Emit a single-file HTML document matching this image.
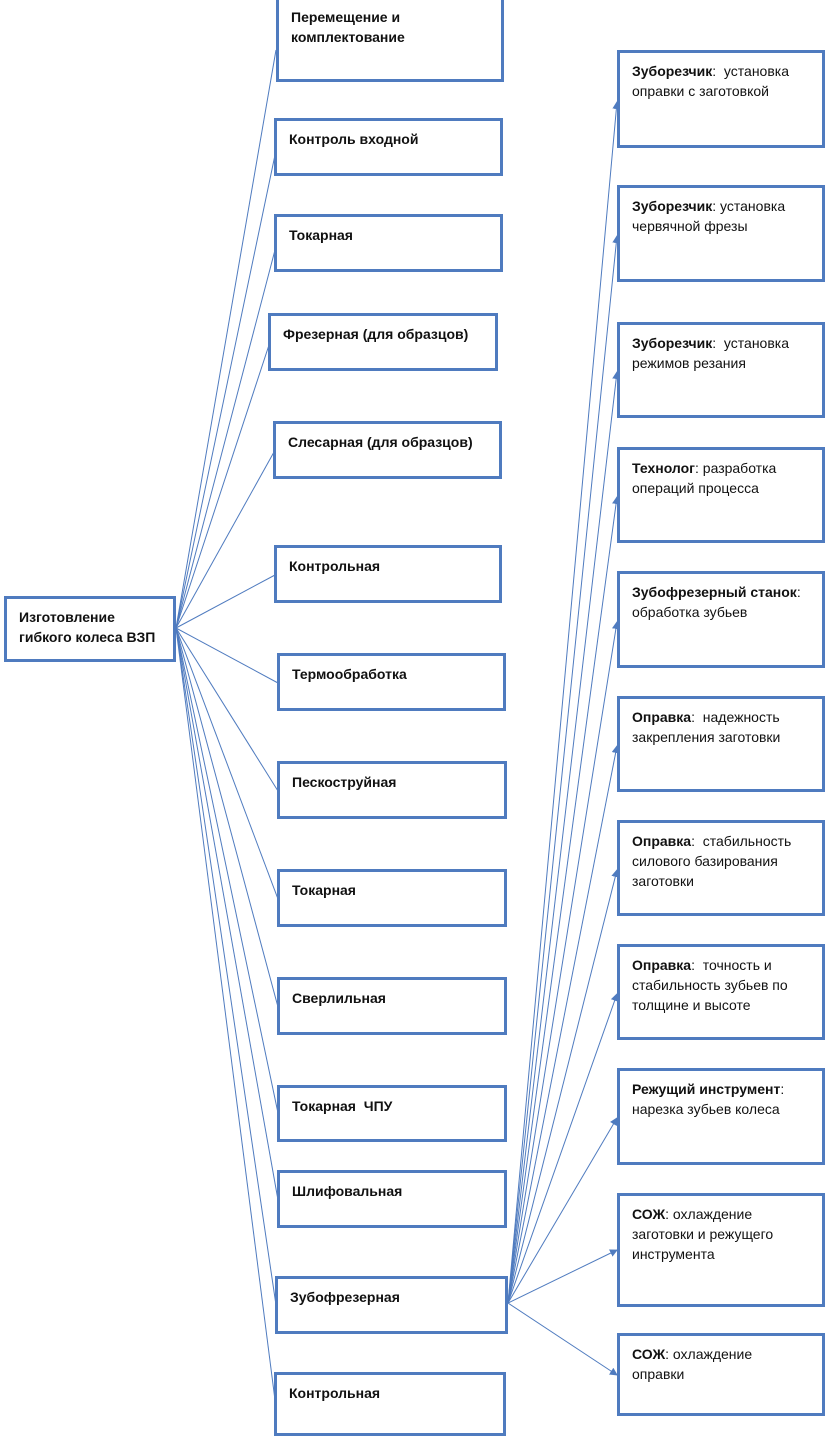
<!DOCTYPE html>
<html><head><meta charset="utf-8"><style>
body{margin:0;width:825px;height:1431px;position:relative;background:#fff;overflow:hidden;font-family:"Liberation Sans",sans-serif;font-size:14px;color:#111;}
.b{position:absolute;box-sizing:border-box;border:3px solid #4f7bbf;background:#fff;padding:8px 12px;line-height:20px;letter-spacing:0}
.r{padding-right:22px}
.l{font-weight:bold}
b{font-weight:bold}
svg{position:absolute;left:0;top:0}
</style></head><body>
<svg width="825" height="1431" viewBox="0 0 825 1431">
<defs><marker id="a" markerWidth="8" markerHeight="8" refX="7" refY="4" orient="auto" markerUnits="userSpaceOnUse"><path d="M0,0 L8,4 L0,8 z" fill="#4f7bbf"/></marker></defs>
<g stroke="#4f7bbf" stroke-width="1" fill="none">
<line x1="176" y1="628" x2="276" y2="50"/>
<line x1="176" y1="628" x2="275" y2="155"/>
<line x1="176" y1="628" x2="275" y2="250"/>
<line x1="176" y1="628" x2="269" y2="345"/>
<line x1="176" y1="628" x2="274" y2="452"/>
<line x1="176" y1="628" x2="275" y2="575"/>
<line x1="176" y1="628" x2="278" y2="683"/>
<line x1="176" y1="628" x2="278" y2="791"/>
<line x1="176" y1="628" x2="278" y2="899"/>
<line x1="176" y1="628" x2="278" y2="1007"/>
<line x1="176" y1="628" x2="278" y2="1113"/>
<line x1="176" y1="628" x2="278" y2="1200"/>
<line x1="176" y1="628" x2="276" y2="1305"/>
<line x1="176" y1="628" x2="275" y2="1400"/>
</g>
<g stroke="#4f7bbf" stroke-width="1" fill="none" marker-end="url(#a)">
<line x1="508" y1="1303" x2="617" y2="102"/>
<line x1="508" y1="1303" x2="617" y2="236"/>
<line x1="508" y1="1303" x2="617" y2="372"/>
<line x1="508" y1="1303" x2="617" y2="497"/>
<line x1="508" y1="1303" x2="617" y2="622"/>
<line x1="508" y1="1303" x2="617" y2="746"/>
<line x1="508" y1="1303" x2="617" y2="870"/>
<line x1="508" y1="1303" x2="617" y2="994"/>
<line x1="508" y1="1303" x2="617" y2="1118"/>
<line x1="508" y1="1303" x2="617" y2="1250"/>
<line x1="508" y1="1303" x2="617" y2="1375"/>
</g>
</svg>
<div class="b l" style="left:4px;top:596px;width:172px;height:66px;padding-top:8px">Изготовление<br>гибкого колеса ВЗП</div>

<div class="b l" style="left:276px;top:-4px;width:228px;height:86px">Перемещение и<br>комплектование</div>
<div class="b l" style="left:274px;top:118px;width:229px;height:58px">Контроль входной</div>
<div class="b l" style="left:274px;top:214px;width:229px;height:58px">Токарная</div>
<div class="b l" style="left:268px;top:313px;width:230px;height:58px">Фрезерная (для образцов)</div>
<div class="b l" style="left:273px;top:421px;width:229px;height:58px">Слесарная (для образцов)</div>
<div class="b l" style="left:274px;top:545px;width:228px;height:58px">Контрольная</div>
<div class="b l" style="left:277px;top:653px;width:229px;height:58px">Термообработка</div>
<div class="b l" style="left:277px;top:761px;width:230px;height:58px">Пескоструйная</div>
<div class="b l" style="left:277px;top:869px;width:230px;height:58px">Токарная</div>
<div class="b l" style="left:277px;top:977px;width:230px;height:58px">Сверлильная</div>
<div class="b l" style="left:277px;top:1085px;width:230px;height:57px">Токарная&nbsp; ЧПУ</div>
<div class="b l" style="left:277px;top:1170px;width:230px;height:58px">Шлифовальная</div>
<div class="b l" style="left:275px;top:1276px;width:233px;height:58px">Зубофрезерная</div>
<div class="b l" style="left:274px;top:1372px;width:232px;height:64px">Контрольная</div>

<div class="b r" style="left:617px;top:50px;width:208px;height:98px"><b>Зуборезчик</b>:&nbsp; установка оправки с заготовкой</div>
<div class="b r" style="left:617px;top:185px;width:208px;height:97px"><b>Зуборезчик</b>: установка червячной фрезы</div>
<div class="b r" style="left:617px;top:322px;width:208px;height:96px"><b>Зуборезчик</b>:&nbsp; установка режимов резания</div>
<div class="b r" style="left:617px;top:447px;width:208px;height:96px"><b>Технолог</b>: разработка операций процесса</div>
<div class="b" style="left:617px;top:571px;width:208px;height:97px;padding-right:4px"><span style="white-space:nowrap"><b>Зубофрезерный станок</b>:</span><br>обработка зубьев</div>
<div class="b r" style="left:617px;top:696px;width:208px;height:96px"><b>Оправка</b>:&nbsp; надежность закрепления заготовки</div>
<div class="b r" style="left:617px;top:820px;width:208px;height:96px"><b>Оправка</b>:&nbsp; стабильность силового базирования заготовки</div>
<div class="b r" style="left:617px;top:944px;width:208px;height:96px"><b>Оправка</b>:&nbsp; точность и стабильность зубьев по толщине и высоте</div>
<div class="b r" style="left:617px;top:1068px;width:208px;height:97px"><b>Режущий инструмент</b>: нарезка зубьев колеса</div>
<div class="b r" style="left:617px;top:1193px;width:208px;height:114px"><b>СОЖ</b>: охлаждение<br>заготовки и режущего инструмента</div>
<div class="b r" style="left:617px;top:1333px;width:208px;height:83px"><b>СОЖ</b>: охлаждение<br>оправки</div>
</body></html>
